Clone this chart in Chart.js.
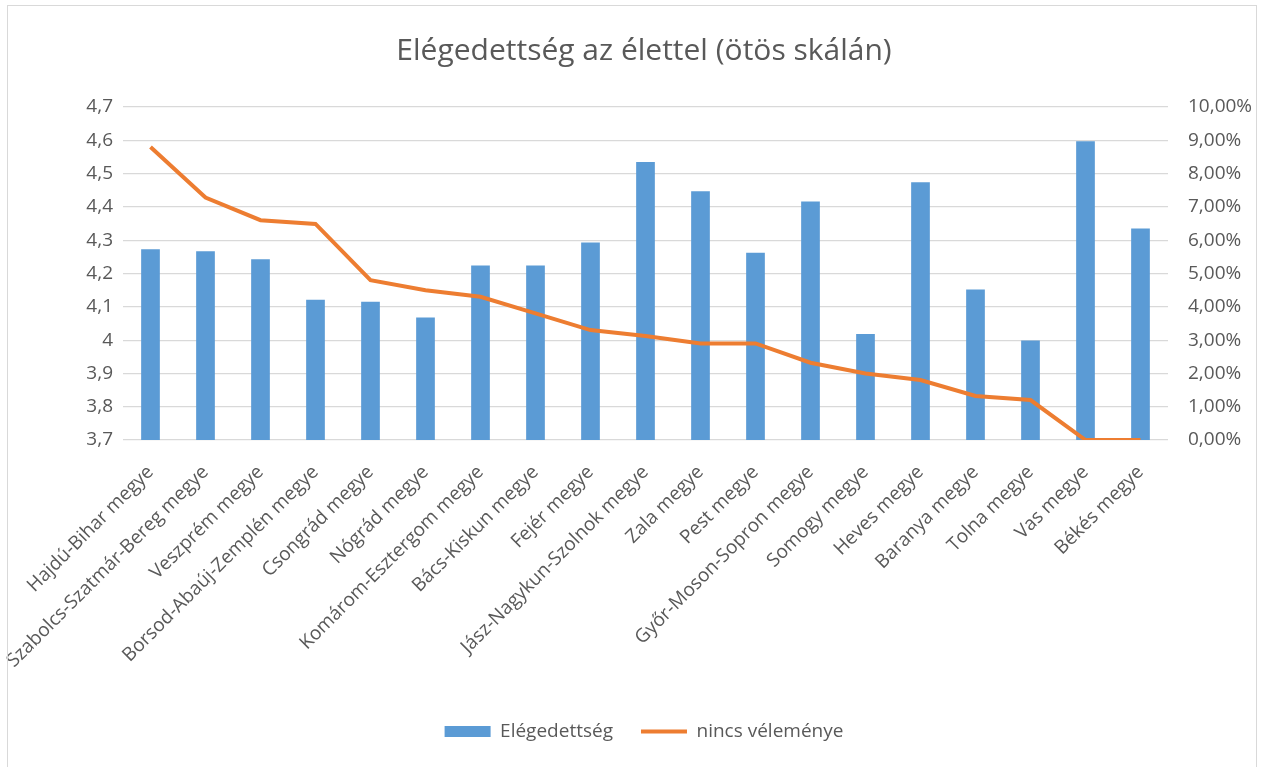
<!DOCTYPE html>
<html>
<head>
<meta charset="utf-8">
<script src="https://cdn.jsdelivr.net/npm/chart.js@4"></script>
<style>
  body { margin: 0; background: #fff; }
  #wrap { position: absolute; left: 0; top: 0; width: 1264px; height: 767px; }
  #frame { position: absolute; left: 7px; top: 5px; width: 1250px; height: 762px; border: 1px solid #d9d9d9; border-bottom: none; box-sizing: border-box; }
</style>
</head>
<body>
<div id="wrap">
  <div id="frame"></div>
  <canvas id="lifeChart"></canvas>
</div>
<script>
var counties = [
  'Hajdú-Bihar megye', 'Szabolcs-Szatmár-Bereg megye', 'Veszprém megye',
  'Borsod-Abaúj-Zemplén megye', 'Csongrád megye', 'Nógrád megye',
  'Komárom-Esztergom megye', 'Bács-Kiskun megye', 'Fejér megye',
  'Jász-Nagykun-Szolnok megye', 'Zala megye', 'Pest megye',
  'Győr-Moson-Sopron megye', 'Somogy megye', 'Heves megye',
  'Baranya megye', 'Tolna megye', 'Vas megye', 'Békés megye'
]

// átlagos elégedettség (1-5)
var satisfaction = [ 4.273, 4.267, 4.243, 4.121, 4.115, 4.068, 4.224, 4.224, 4.293,
  4.535, 4.447, 4.262, 4.416, 4.018, 4.474, 4.152, 3.999, 4.597, 4.335 ]

// nincs véleménye, százalék
var noOpinion = [ 8.8, 7.28, 6.6, 6.49, 4.8, 4.5, 4.3, 3.8, 3.3,
  3.12, 2.9, 2.9, 2.32, 2.0, 1.8, 1.32, 1.2, 0, 0 ]

var leftTicks = [ 3.7, 4.7, 0.1 ]   // min, max, step
var rightTicks = [ 0, 10, 1 ]

var textColor = '#595959'
var fontFamily = '"Open Sans", sans-serif'

var ctx = document.getElementById('lifeChart')

new Chart(ctx, {
  data: {
    labels: counties,
    datasets: [
      {
        type: 'bar',
        label: 'Elégedettség',
        data: satisfaction,
        yAxisID: 'y',
        backgroundColor: '#5b9bd5',
        borderWidth: 0,
        barPercentage: 0.34,
        categoryPercentage: 1,
        order: 2
      },
      {
        type: 'line',
        label: 'nincs véleménye',
        data: noOpinion,
        yAxisID: 'y1',
        borderColor: '#ed7d31',
        backgroundColor: '#ed7d31',
        borderWidth: 4,
        pointRadius: 0,
        tension: 0,
        order: 1
      }
    ]
  },
  options: {
    responsive: true,
    maintainAspectRatio: false,
    animation: false,
    layout: { padding: { left: 24, right: 0, top: 0, bottom: 16 } },
    plugins: {
      title: {
        display: true,
        text: 'Elégedettség az élettel (ötös skálán)',
        color: textColor,
        font: { family: fontFamily, size: 30, weight: 'normal' },
        padding: { top: 33, bottom: 38 }
      },
      legend: {
        position: 'bottom',
        labels: {
          color: textColor,
          font: { family: fontFamily, size: 19 },
          usePointStyle: true,
          pointStyleWidth: 46,
          boxHeight: 11,
          padding: 28,
          generateLabels: function (chart) {
            var items = Chart.defaults.plugins.legend.labels.generateLabels(chart)
            items.sort(function (a, b) { return a.datasetIndex - b.datasetIndex })
            items[0].pointStyle = 'rect'
            items[0].lineWidth = 0
            items[1].pointStyle = 'line'
            items[1].lineWidth = 4
            return items
          }
        }
      },
      tooltip: { enabled: false }
    },
    scales: {
      x: {
        grid: { display: false },
        border: { display: false },
        afterFit: function (s) { s.height = 254 },
        ticks: {
          color: textColor,
          font: { family: fontFamily, size: 19 },
          minRotation: 45,
          maxRotation: 45,
          autoSkip: false,
          padding: 13
        }
      },
      y: {
        position: 'left',
        min: leftTicks[0],
        max: leftTicks[1],
        afterFit: function (s) { s.width = 99 },
        grid: { color: '#d9d9d9', lineWidth: 1.2, drawTicks: false },
        border: { display: false },
        ticks: {
          stepSize: leftTicks[2],
          color: textColor,
          font: { family: fontFamily, size: 19 },
          padding: 10,
          callback: function (v) {
            return String(Math.round(v * 10) / 10).replace('.', ',')
          }
        }
      },
      y1: {
        position: 'right',
        min: rightTicks[0],
        max: rightTicks[1],
        afterFit: function (s) { s.width = 96 },
        grid: { display: false },
        border: { display: false },
        ticks: {
          stepSize: rightTicks[2],
          color: textColor,
          font: { family: fontFamily, size: 19 },
          padding: 12,
          callback: function (v) {
            return v.toFixed(2).replace('.', ',') + '%'
          }
        }
      }
    }
  }
})
</script>
</body>
</html>
